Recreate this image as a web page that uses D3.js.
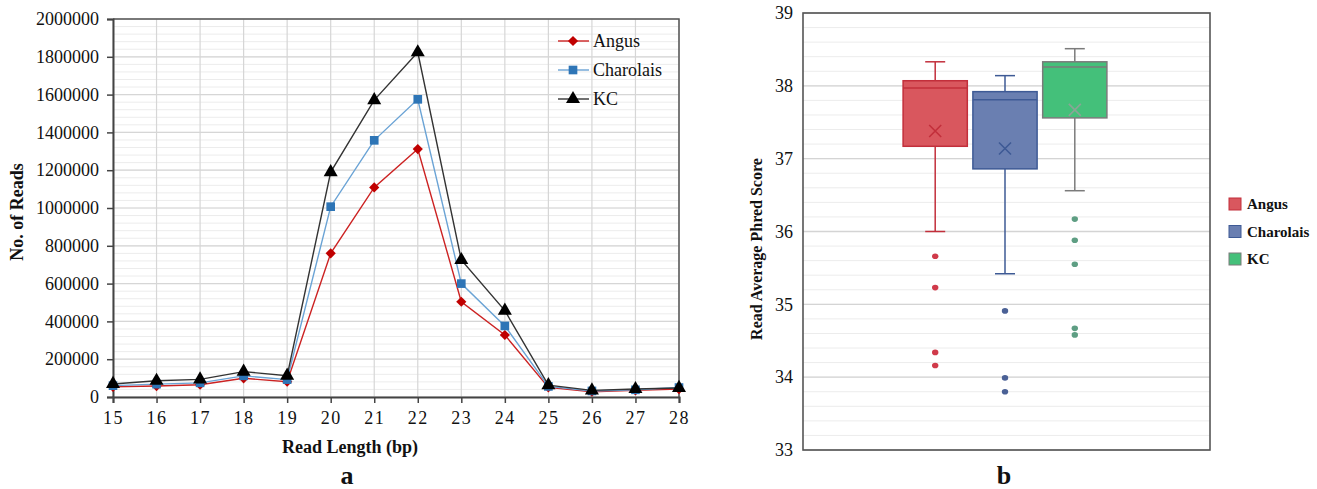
<html>
<head>
<meta charset="utf-8">
<script src="https://cdn.jsdelivr.net/npm/d3@7"></script>
<style>
  body{margin:0;background:#fff;}
</style>
</head>
<body>
<svg id="fig" width="1317" height="489"></svg>
<script>
// ---- panel a data : read counts by read length ----
var readLengths = [15,16,17,18,19,20,21,22,23,24,25,26,27,28];
var angusReads     = [54000,58000,65000,99000,81000,760000,1109000,1312000,504000,328000,51000,28000,35000,42000];
var charolaisReads = [60000,68000,75000,112000,92000,1007000,1358000,1575000,600000,376000,56000,32000,38000,50000];
var kcReads        = [69000,86000,93000,134000,113000,1190000,1571000,1824000,725000,457000,63000,35000,42000,48000];
var readTicks = [0,200000,400000,600000,800000,1000000,1200000,1400000,1600000,1800000,2000000];

// ---- panel b data : box plot of read average phred score ----
var breeds   = ['Angus','Charolais','KC'];
var boxMin   = [36.00, 35.42, 36.56];
var boxQ1    = [37.17, 36.86, 37.56];
var boxMed   = [37.97, 37.81, 38.26];
var boxQ3    = [38.07, 37.92, 38.33];
var boxMax   = [38.33, 38.14, 38.51];
var boxMean  = [37.38, 37.14, 37.67];
var boxOut   = [[35.66,35.23,34.34,34.16],[34.91,33.99,33.80],[36.17,35.88,35.55,34.67,34.58]];
var phredTicks = [33,34,35,36,37,38,39];

var FONT = "'Liberation Serif','Times New Roman',serif";
var svg = d3.select('#fig').style('font-family',FONT);

function label(g,txt,size,bold){
  return g.append('text').style('font-family',FONT).attr('font-size',size)
    .attr('font-weight',bold?'bold':'normal').attr('fill','#111').text(txt);
}

// =================== panel a ===================
var a = {left:113, right:679, top:19, bottom:397};
var xa = d3.scaleLinear().domain([15,28]).range([a.left,a.right]);
var ya = d3.scaleLinear().domain([0,2000000]).range([a.bottom,a.top]);

var ga = svg.append('g');

// minor + major grid
ga.selectAll('.minor').data(d3.range(0,2000001,40000)).enter().append('line')
  .attr('x1',a.left).attr('x2',a.right)
  .attr('y1',function(d){return ya(d)}).attr('y2',function(d){return ya(d)})
  .attr('stroke','#ececec').attr('stroke-width',1);
ga.selectAll('.major').data(readTicks).enter().append('line')
  .attr('x1',a.left).attr('x2',a.right)
  .attr('y1',function(d){return ya(d)}).attr('y2',function(d){return ya(d)})
  .attr('stroke','#d6d6d6').attr('stroke-width',1.2);
ga.selectAll('.vgrid').data(readLengths).enter().append('line')
  .attr('x1',function(d){return xa(d)}).attr('x2',function(d){return xa(d)})
  .attr('y1',a.top).attr('y2',a.bottom)
  .attr('stroke','#d6d6d6').attr('stroke-width',1.2);

// frame top/right
ga.append('path')
  .attr('d','M'+a.left+','+a.top+'H'+a.right+'V'+a.bottom)
  .attr('fill','none').attr('stroke','#555').attr('stroke-width',1.5);

// axes
var yAxisA = d3.axisLeft(ya).tickValues(readTicks).tickSize(6).tickPadding(8).tickFormat(d3.format('d'));
var gy = ga.append('g').attr('transform','translate('+a.left+',0)').call(yAxisA);
var xAxisA = d3.axisBottom(xa).tickValues(readLengths).tickSize(6).tickPadding(8).tickFormat(d3.format('d'));
var gx = ga.append('g').attr('transform','translate(0,'+a.bottom+')').call(xAxisA);
[gy,gx].forEach(function(g){
  g.attr('font-family',FONT).style('font-family',FONT);
  g.select('.domain').attr('stroke','#444').attr('stroke-width',2);
  g.selectAll('.tick line').attr('stroke','#444').attr('stroke-width',1.5);
  g.selectAll('.tick text').style('font-family',FONT).attr('font-size',18).attr('fill','#111');
});
gx.selectAll('.tick text').attr('letter-spacing',1.5);

// series (diamond = rotated square, like the Excel marker)
var seriesA = [
  {name:'Angus', values:angusReads, line:'#cc2222', mark:'#c00000', sym:d3.symbolSquare, size:52, rot:45},
  {name:'Charolais', values:charolaisReads, line:'#6aa3d5', mark:'#2e75b6', sym:d3.symbolSquare, size:75, rot:0},
  {name:'KC', values:kcReads, line:'#333333', mark:'#000000', sym:d3.symbolTriangle, size:85, rot:0}
];
var lineA = d3.line().x(function(d,i){return xa(readLengths[i])}).y(function(d){return ya(d)});

seriesA.forEach(function(s){
  ga.append('path').datum(s.values)
    .attr('d',lineA).attr('fill','none').attr('stroke',s.line).attr('stroke-width',1.4);
});
seriesA.forEach(function(s){
  ga.selectAll('.m'+s.name).data(s.values).enter().append('path')
    .attr('d',d3.symbol().type(s.sym).size(s.size))
    .attr('transform',function(d,i){return 'translate('+xa(readLengths[i])+','+ya(d)+') rotate('+s.rot+')'})
    .attr('fill',s.mark);
});

// legend
seriesA.forEach(function(s,i){
  var ly = 41 + i*29;
  ga.append('line').attr('x1',558).attr('x2',589).attr('y1',ly).attr('y2',ly)
    .attr('stroke',s.line).attr('stroke-width',1.4);
  ga.append('path').attr('d',d3.symbol().type(s.sym).size(s.size))
    .attr('transform','translate(573,'+ly+') rotate('+s.rot+')').attr('fill',s.mark);
  label(ga,s.name,18,false).attr('x',593).attr('y',ly).attr('dy','0.35em');
});

// titles
label(ga,'No. of Reads',18,true).attr('transform','translate(23,212) rotate(-90)').attr('text-anchor','middle');
label(ga,'Read Length (bp)',18,true).attr('x',350).attr('y',453).attr('text-anchor','middle');
label(ga,'a',26,true).attr('x',347).attr('y',484).attr('text-anchor','middle');

// =================== panel b ===================
var b = {left:803, right:1210, top:13, bottom:450};
var yb = d3.scaleLinear().domain([33,39]).range([b.bottom,b.top]);
var xb = d3.scaleBand().domain(breeds).range([901,1109]).paddingInner(0.08).paddingOuter(0.03);

var gb = svg.append('g');

gb.selectAll('.minor').data(d3.range(33,39.01,0.2)).enter().append('line')
  .attr('x1',b.left).attr('x2',b.right)
  .attr('y1',function(d){return yb(d)}).attr('y2',function(d){return yb(d)})
  .attr('stroke','#ececec').attr('stroke-width',1);
gb.selectAll('.major').data(phredTicks).enter().append('line')
  .attr('x1',b.left).attr('x2',b.right)
  .attr('y1',function(d){return yb(d)}).attr('y2',function(d){return yb(d)})
  .attr('stroke','#d4d4d4').attr('stroke-width',1.3);

gb.append('rect').attr('x',b.left).attr('y',b.top)
  .attr('width',b.right-b.left).attr('height',b.bottom-b.top)
  .attr('fill','none').attr('stroke','#555').attr('stroke-width',1.6);

var yAxisB = d3.axisLeft(yb).tickValues(phredTicks).tickSize(0).tickPadding(10).tickFormat(d3.format('d'));
var gyb = gb.append('g').attr('transform','translate('+b.left+',0)').call(yAxisB);
gyb.attr('font-family',FONT).style('font-family',FONT);
gyb.select('.domain').remove();
gyb.selectAll('.tick text').style('font-family',FONT).attr('font-size',18).attr('fill','#111');

var boxFill   = ['#d9575e','#6a7fb1','#44c07a'];
var boxStroke = ['#c22f3b','#3e5a95','#7b7b7b'];
var meanCol   = ['#c22f3b','#3e5a95','#8aa596'];
var dotCol    = ['#d03a4a','#4b6196','#5e9e83'];

breeds.forEach(function(name,i){
  var x0 = xb(name), w = xb.bandwidth(), cx = x0 + w/2, cap = 10;
  var g = gb.append('g');
  // whiskers
  g.append('line').attr('x1',cx).attr('x2',cx).attr('y1',yb(boxMax[i])).attr('y2',yb(boxQ3[i]))
    .attr('stroke',boxStroke[i]).attr('stroke-width',1.5);
  g.append('line').attr('x1',cx).attr('x2',cx).attr('y1',yb(boxQ1[i])).attr('y2',yb(boxMin[i]))
    .attr('stroke',boxStroke[i]).attr('stroke-width',1.5);
  [boxMax[i],boxMin[i]].forEach(function(v){
    g.append('line').attr('x1',cx-cap).attr('x2',cx+cap).attr('y1',yb(v)).attr('y2',yb(v))
      .attr('stroke',boxStroke[i]).attr('stroke-width',1.5);
  });
  // box
  g.append('rect').attr('x',x0).attr('y',yb(boxQ3[i]))
    .attr('width',w).attr('height',yb(boxQ1[i])-yb(boxQ3[i]))
    .attr('fill',boxFill[i]).attr('stroke',boxStroke[i]).attr('stroke-width',1.5);
  g.append('line').attr('x1',x0).attr('x2',x0+w).attr('y1',yb(boxMed[i])).attr('y2',yb(boxMed[i]))
    .attr('stroke',boxStroke[i]).attr('stroke-width',1.5);
  // mean marker
  var my = yb(boxMean[i]), s = 6;
  g.append('path').attr('d','M'+(cx-s)+','+(my-s)+'L'+(cx+s)+','+(my+s)+'M'+(cx-s)+','+(my+s)+'L'+(cx+s)+','+(my-s))
    .attr('stroke',meanCol[i]).attr('stroke-width',1.6);
  // outliers
  g.selectAll('.out').data(boxOut[i]).enter().append('ellipse')
    .attr('cx',cx).attr('cy',function(d){return yb(d)}).attr('rx',3.2).attr('ry',2.8)
    .attr('fill',dotCol[i]);
});

// legend b
breeds.forEach(function(name,i){
  var ly = 204 + i*27.5;
  gb.append('rect').attr('x',1229).attr('y',ly-6).attr('width',12).attr('height',12)
    .attr('fill',boxFill[i]).attr('stroke',boxStroke[i]).attr('stroke-width',1);
  label(gb,name,15,true).attr('x',1247).attr('y',ly).attr('dy','0.35em');
});

label(gb,'Read Average Phred Score',16,true).attr('transform','translate(762,249) rotate(-90)').attr('text-anchor','middle');
label(gb,'b',26,true).attr('x',1004).attr('y',484).attr('text-anchor','middle');
</script>
</body>
</html>
